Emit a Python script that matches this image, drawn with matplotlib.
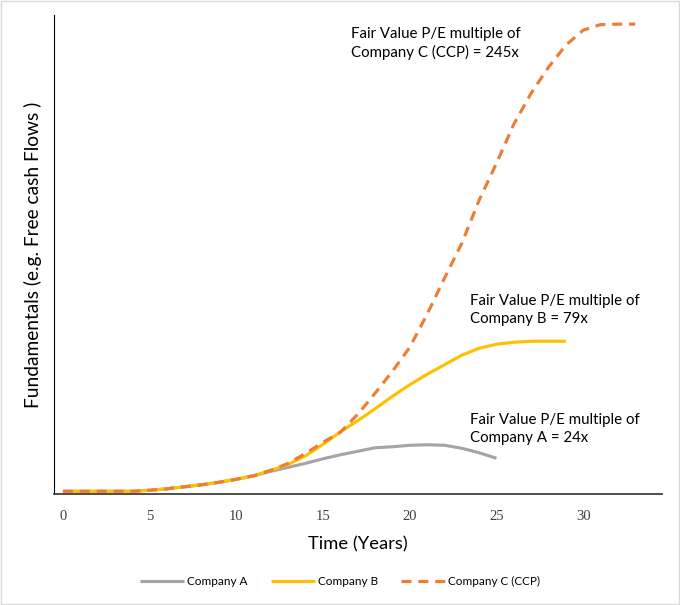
import numpy as np
import matplotlib.pyplot as plt
from matplotlib.patches import Rectangle

# Values (arbitrary "fundamentals" units)
years_a = list(range(0, 26))
years_b = list(range(0, 30))
years_c = list(range(0, 34))

early = [3, 3, 3, 3, 3, 4, 5.5, 7.5, 9.5, 12, 15, 18.5]

company_a = early + [23, 27, 31, 35.5, 39.5, 43, 46.5, 47.5, 49, 49.5,
                     49, 46, 41.5, 36]
company_b = early + [24, 30, 38.5, 50, 62.5, 73.5, 85.5, 98, 109.5, 120,
                     129.5, 139, 146, 150, 152, 153, 153, 153]
company_c = early + [24, 31, 41, 52, 62, 80, 101, 123, 147, 180, 216, 251,
                     294, 331, 370, 401, 427, 449, 464, 469.5, 470, 470]

labels = ["Company A", "Company B", "Company C (CCP)"]
notes = ["Fair Value P/E multiple of\nCompany A = 24x",
         "Fair Value P/E multiple of\nCompany B = 79x",
         "Fair Value P/E multiple of\nCompany C (CCP) = 245x"]

plt.rcParams['font.family'] = ['Lato', 'DejaVu Sans']

fig = plt.figure(figsize=(6.8, 6.05), dpi=100)
ax = fig.add_axes([0.080, 0.183, 0.894, 0.792])

ax.plot(years_a, company_a, color='#A5A5A5', lw=2.25, label=labels[0],
        solid_capstyle='butt')
ax.plot(years_b, company_b, color='#FFC000', lw=2.25, label=labels[1],
        solid_capstyle='butt')
ax.plot(years_c, company_c, color='#ED7D31', lw=2.25, label=labels[2],
        dashes=(3.2, 2.2))

ax.set_xlim(-0.49, 34.56)
ax.set_ylim(0, 479)
ax.set_xticks([0, 5, 10, 15, 20, 25, 30])
ax.set_yticks([])
ax.tick_params(axis='x', length=0, pad=11, labelsize=10.5, labelcolor='#404040')
for t in ax.get_xticklabels():
    t.set_fontfamily('Liberation Serif')

for s in ['top', 'right']:
    ax.spines[s].set_visible(False)
ax.spines['left'].set_color('#000000')
ax.spines['bottom'].set_color('#404040')
ax.spines['bottom'].set_linewidth(1.3)

ax.set_xlabel("Time (Years)", fontsize=13.2, labelpad=10)
ax.set_ylabel("Fundamentals (e.g. Free cash Flows )", fontsize=13.8,
              labelpad=9)

ax.text(23.46, 81, notes[0], fontsize=10.8, va='top', linespacing=1.35)
ax.text(23.46, 200, notes[1], fontsize=10.8, va='top', linespacing=1.35)
ax.text(16.6, 467, notes[2], fontsize=10.8, va='top', linespacing=1.35)

fig.legend(loc='lower center', bbox_to_anchor=(0.5, 0.012), ncol=3,
           frameon=False, fontsize=8.5, handlelength=3.7, handletextpad=0.25,
           columnspacing=2.0)

fig.patches.append(Rectangle((0.002, 0.002), 0.996, 0.996,
                             transform=fig.transFigure, fill=False,
                             edgecolor='#D9D9D9', lw=1))

fig.savefig("out.png", dpi=100)
